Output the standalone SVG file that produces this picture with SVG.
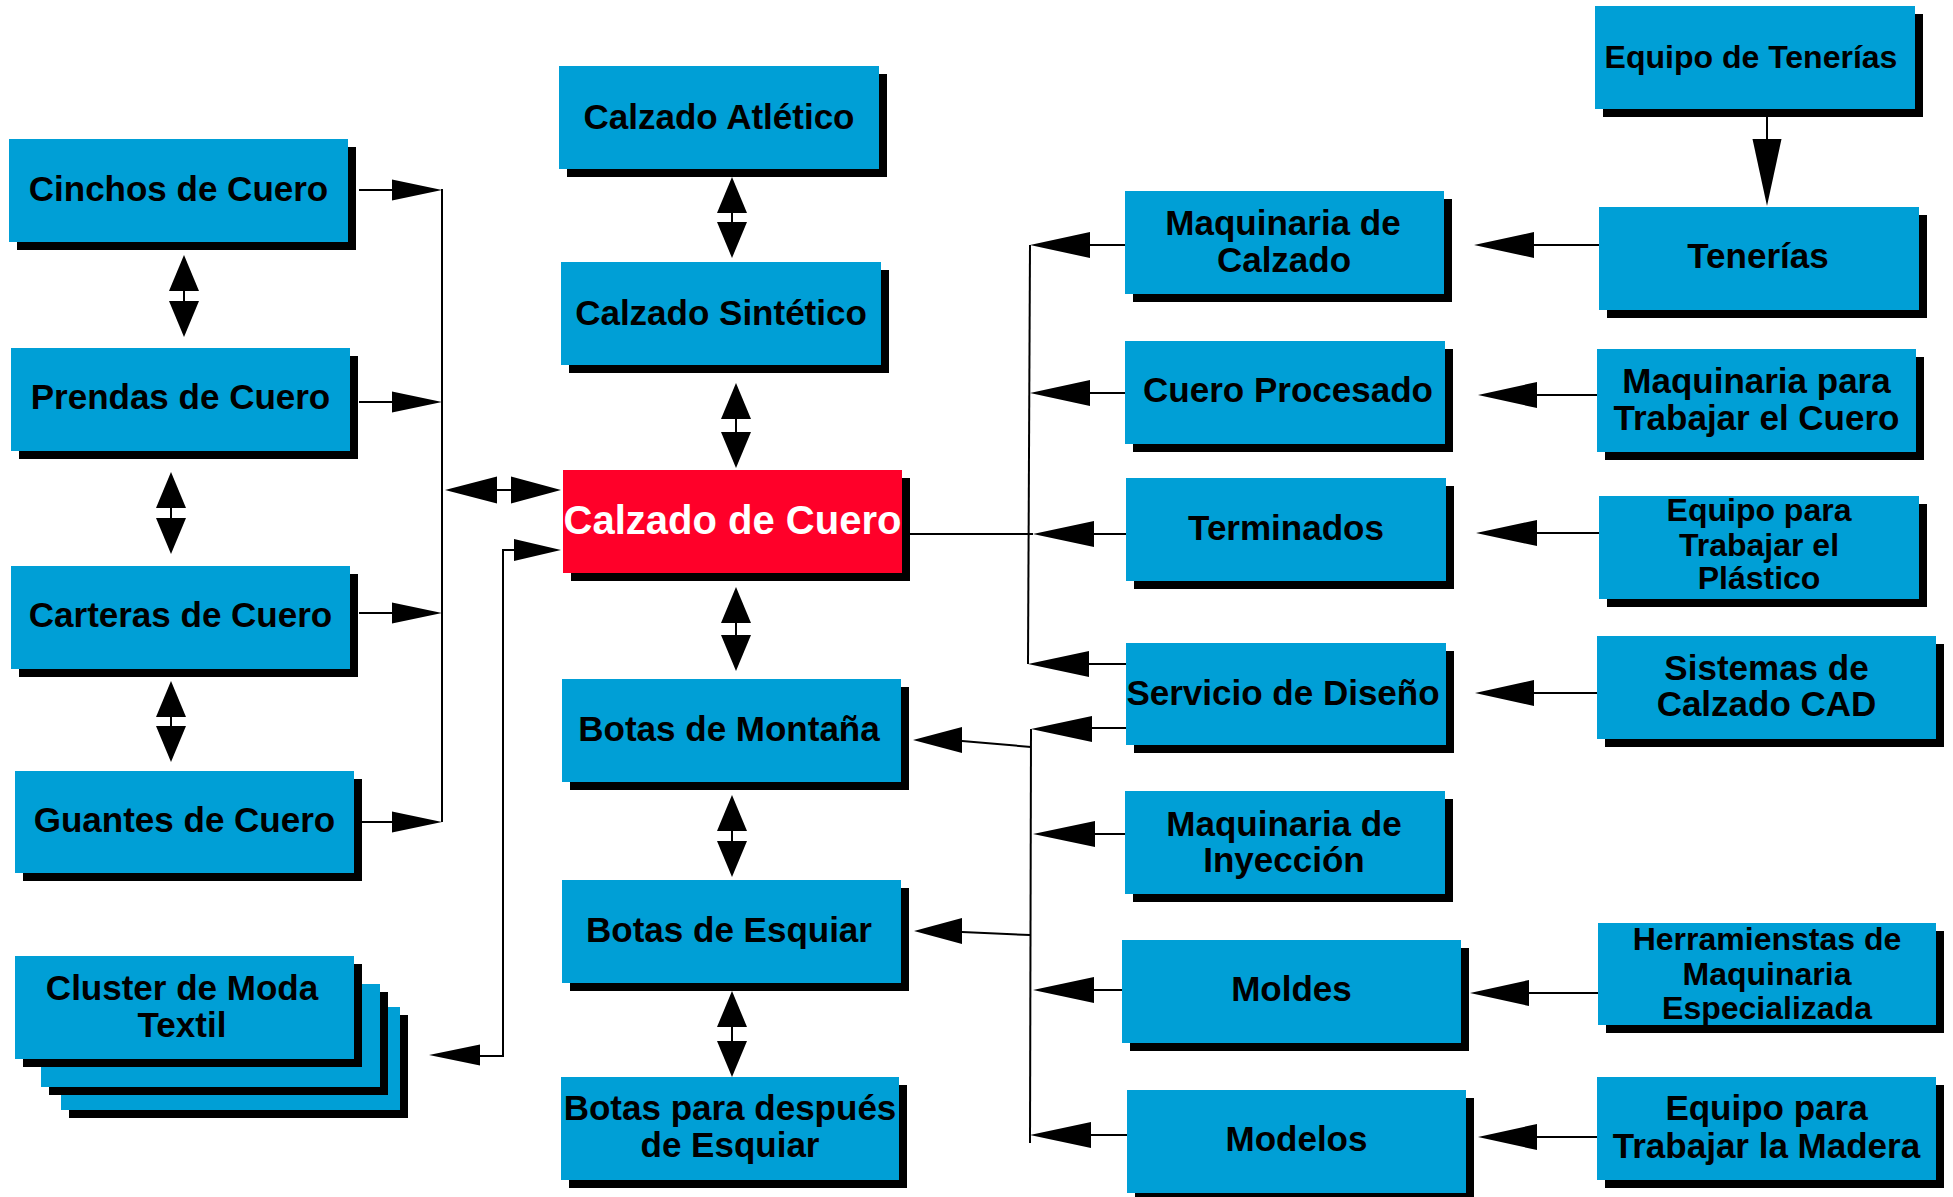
<svg xmlns="http://www.w3.org/2000/svg" width="1953" height="1197" viewBox="0 0 1953 1197">
<style>
.bg{fill:#FFFFFF}
.box{fill:#009FD6}
.red{fill:#FF0029}
.sh{fill:#000000}
.t{font-family:"Liberation Sans",Arial,Helvetica,sans-serif;font-weight:bold;font-size:35px;text-anchor:middle;fill:#000000}
.tw{fill:#FFFFFF;font-size:40px}
.ts{font-size:32px}
.ln{stroke:#000000;stroke-width:2;fill:none}
.ah{fill:#000000;stroke:none}
</style>
<rect class="bg" x="0" y="0" width="1953" height="1197"/>

<g id="connectors">
  <!-- left bus -->
  <path class="ln" d="M442,189 V822"/>
  <path class="ln" d="M359,190 H392 M359,402 H392 M359,613 H392 M362,822 H392"/>
  <polygon class="ah" points="442,190 392,179.5 392,200.5"/>
  <polygon class="ah" points="442,402 392,391.5 392,412.5"/>
  <polygon class="ah" points="442,613 392,602.5 392,623.5"/>
  <polygon class="ah" points="442,822 392,811.5 392,832.5"/>
  <!-- bus <-> Calzado de Cuero -->
  <path class="ln" d="M497,490 H511"/>
  <polygon class="ah" points="445,490 497,476.5 497,503.5"/>
  <polygon class="ah" points="561,490 511,476.5 511,503.5"/>
  <!-- cluster <-> Calzado de Cuero -->
  <path class="ln" d="M514,550 H503 V1056 H480"/>
  <polygon class="ah" points="561,550 514,539 514,561"/>
  <polygon class="ah" points="429,1055 480,1044.5 480,1065.5"/>
  <!-- vertical double arrows -->
  <path class="ln" d="M184,291 V301 M171,508 V518 M171,717 V726 M732,213 V222 M736,419 V432 M736,623 V635 M732,831 V841 M732,1027 V1041"/>
  <polygon class="ah" points="184,255 169,291 199,291"/>
  <polygon class="ah" points="184,337 169,301 199,301"/>
  <polygon class="ah" points="171,472 156,508 186,508"/>
  <polygon class="ah" points="171,554 156,518 186,518"/>
  <polygon class="ah" points="171,681 156,717 186,717"/>
  <polygon class="ah" points="171,762 156,726 186,726"/>
  <polygon class="ah" points="732,177 717,213 747,213"/>
  <polygon class="ah" points="732,258 717,222 747,222"/>
  <polygon class="ah" points="736,383 721,419 751,419"/>
  <polygon class="ah" points="736,468 721,432 751,432"/>
  <polygon class="ah" points="736,587 721,623 751,623"/>
  <polygon class="ah" points="736,671 721,635 751,635"/>
  <polygon class="ah" points="732,795 717,831 747,831"/>
  <polygon class="ah" points="732,877 717,841 747,841"/>
  <polygon class="ah" points="732,991 717,1027 747,1027"/>
  <polygon class="ah" points="732,1077 717,1041 747,1041"/>
  <!-- right buses -->
  <path class="ln" d="M1030,245 L1028,664"/>
  <path class="ln" d="M1031,729 L1030,1143"/>
  <path class="ln" d="M910,534 H1033"/>
  <path class="ln" d="M1090,245 H1125 M1090,393 H1125 M1094,534 H1126 M1089,664 H1126 M1092,728 H1126 M1095,834 H1125 M1094,990 H1122 M1091,1135 H1127"/>
  <polygon class="ah" points="1030,245 1090,232 1090,258"/>
  <polygon class="ah" points="1030,393 1090,380 1090,406"/>
  <polygon class="ah" points="1033,534 1094,521 1094,547"/>
  <polygon class="ah" points="1028,664 1089,651 1089,677"/>
  <polygon class="ah" points="1031,729 1092,716 1092,742"/>
  <polygon class="ah" points="1033,834 1095,821 1095,847"/>
  <polygon class="ah" points="1033,990 1094,977 1094,1003"/>
  <polygon class="ah" points="1030,1135 1091,1122 1091,1148"/>
  <!-- lower bus to boots -->
  <path class="ln" d="M962,741 L1031,747 M962,932 L1030,935"/>
  <polygon class="ah" points="913,740 962,727 962,753"/>
  <polygon class="ah" points="914,931 962,918 962,944"/>
  <!-- right column -->
  <path class="ln" d="M1534,245 H1599 M1537,395 H1597 M1537,533 H1599 M1534,693 H1597 M1529,993 H1598 M1537,1137 H1597 M1767,117 V139"/>
  <polygon class="ah" points="1474,245 1534,232 1534,258"/>
  <polygon class="ah" points="1478,395 1537,382 1537,408"/>
  <polygon class="ah" points="1476,533 1537,520 1537,546"/>
  <polygon class="ah" points="1475,693 1534,680 1534,706"/>
  <polygon class="ah" points="1470,993 1529,980 1529,1006"/>
  <polygon class="ah" points="1478,1137 1537,1124 1537,1150"/>
  <polygon class="ah" points="1767,206 1752.5,139 1781.5,139"/>
</g>

<g id="n-cinchos"><rect class="sh" x="17" y="147" width="339" height="103"/><rect class="box" x="9" y="139" width="339" height="103"/><text class="t" x="178.5" y="201">Cinchos de Cuero</text></g>
<g id="n-prendas"><rect class="sh" x="19" y="356" width="339" height="103"/><rect class="box" x="11" y="348" width="339" height="103"/><text class="t" x="180.5" y="409">Prendas de Cuero</text></g>
<g id="n-carteras"><rect class="sh" x="19" y="574" width="339" height="103"/><rect class="box" x="11" y="566" width="339" height="103"/><text class="t" x="180.5" y="627">Carteras de Cuero</text></g>
<g id="n-guantes"><rect class="sh" x="23" y="779" width="339" height="102"/><rect class="box" x="15" y="771" width="339" height="102"/><text class="t" x="184.5" y="832">Guantes de Cuero</text></g>
<g id="n-cluster">
  <rect class="sh" x="69" y="1015" width="339" height="103"/><rect class="box" x="61" y="1007" width="339" height="103"/>
  <rect class="sh" x="49" y="992" width="339" height="103"/><rect class="box" x="41" y="984" width="339" height="103"/>
  <rect class="sh" x="23" y="964" width="339" height="103"/><rect class="box" x="15" y="956" width="339" height="103"/>
  <text class="t" x="182" y="1000">Cluster de Moda</text><text class="t" x="182" y="1037">Textil</text>
</g>

<g id="n-atletico"><rect class="sh" x="567" y="74" width="320" height="103"/><rect class="box" x="559" y="66" width="320" height="103"/><text class="t" x="719" y="129">Calzado Atlético</text></g>
<g id="n-sintetico"><rect class="sh" x="569" y="270" width="320" height="103"/><rect class="box" x="561" y="262" width="320" height="103"/><text class="t" x="721" y="325">Calzado Sintético</text></g>
<g id="n-cuero"><rect class="sh" x="571" y="478" width="339" height="103"/><rect class="red" x="563" y="470" width="339" height="103"/><text class="t tw" x="732.5" y="534">Calzado de Cuero</text></g>
<g id="n-montana"><rect class="sh" x="570" y="687" width="339" height="103"/><rect class="box" x="562" y="679" width="339" height="103"/><text class="t" x="729" y="741">Botas de Montaña</text></g>
<g id="n-esquiar"><rect class="sh" x="570" y="888" width="339" height="103"/><rect class="box" x="562" y="880" width="339" height="103"/><text class="t" x="729" y="942">Botas de Esquiar</text></g>
<g id="n-despues"><rect class="sh" x="569" y="1085" width="338" height="103"/><rect class="box" x="561" y="1077" width="338" height="103"/><text class="t" x="730" y="1120">Botas para después</text><text class="t" x="730" y="1157">de Esquiar</text></g>

<g id="n-maqcalzado"><rect class="sh" x="1133" y="199" width="319" height="103"/><rect class="box" x="1125" y="191" width="319" height="103"/><text class="t" x="1283" y="235">Maquinaria de</text><text class="t" x="1284" y="272">Calzado</text></g>
<g id="n-cueroproc"><rect class="sh" x="1133" y="349" width="320" height="103"/><rect class="box" x="1125" y="341" width="320" height="103"/><text class="t" x="1288" y="402">Cuero Procesado</text></g>
<g id="n-terminados"><rect class="sh" x="1134" y="486" width="320" height="103"/><rect class="box" x="1126" y="478" width="320" height="103"/><text class="t" x="1286" y="540">Terminados</text></g>
<g id="n-servicio"><rect class="sh" x="1134" y="651" width="320" height="102"/><rect class="box" x="1126" y="643" width="320" height="102"/><text class="t" x="1283" y="705">Servicio de Diseño</text></g>
<g id="n-inyeccion"><rect class="sh" x="1133" y="799" width="320" height="103"/><rect class="box" x="1125" y="791" width="320" height="103"/><text class="t" x="1284" y="836">Maquinaria de</text><text class="t" x="1284" y="872">Inyección</text></g>
<g id="n-moldes"><rect class="sh" x="1130" y="948" width="339" height="103"/><rect class="box" x="1122" y="940" width="339" height="103"/><text class="t" x="1291.5" y="1001">Moldes</text></g>
<g id="n-modelos"><rect class="sh" x="1135" y="1098" width="339" height="103"/><rect class="box" x="1127" y="1090" width="339" height="103"/><text class="t" x="1296.5" y="1151">Modelos</text></g>

<g id="n-eqtenerias"><rect class="sh" x="1603" y="14" width="320" height="103"/><rect class="box" x="1595" y="6" width="320" height="103"/><text class="t ts" x="1751" y="68">Equipo de Tenerías</text></g>
<g id="n-tenerias"><rect class="sh" x="1607" y="215" width="320" height="103"/><rect class="box" x="1599" y="207" width="320" height="103"/><text class="t" x="1758" y="268">Tenerías</text></g>
<g id="n-maqcuero"><rect class="sh" x="1605" y="357" width="319" height="103"/><rect class="box" x="1597" y="349" width="319" height="103"/><text class="t" x="1756.5" y="393">Maquinaria para</text><text class="t" x="1756.5" y="430">Trabajar el Cuero</text></g>
<g id="n-plastico"><rect class="sh" x="1607" y="504" width="320" height="103"/><rect class="box" x="1599" y="496" width="320" height="103"/><text class="t ts" x="1759" y="521">Equipo para</text><text class="t ts" x="1759" y="556">Trabajar el</text><text class="t ts" x="1759" y="589">Plástico</text></g>
<g id="n-cad"><rect class="sh" x="1605" y="644" width="339" height="103"/><rect class="box" x="1597" y="636" width="339" height="103"/><text class="t" x="1766.5" y="680">Sistemas de</text><text class="t" x="1766.5" y="716">Calzado CAD</text></g>
<g id="n-herramientas"><rect class="sh" x="1606" y="931" width="338" height="102"/><rect class="box" x="1598" y="923" width="338" height="102"/><text class="t ts" x="1767" y="950">Herramienstas de</text><text class="t ts" x="1767" y="985">Maquinaria</text><text class="t ts" x="1767" y="1019">Especializada</text></g>
<g id="n-madera"><rect class="sh" x="1605" y="1085" width="339" height="103"/><rect class="box" x="1597" y="1077" width="339" height="103"/><text class="t" x="1766.5" y="1120">Equipo para</text><text class="t" x="1766.5" y="1158">Trabajar la Madera</text></g>
</svg>
